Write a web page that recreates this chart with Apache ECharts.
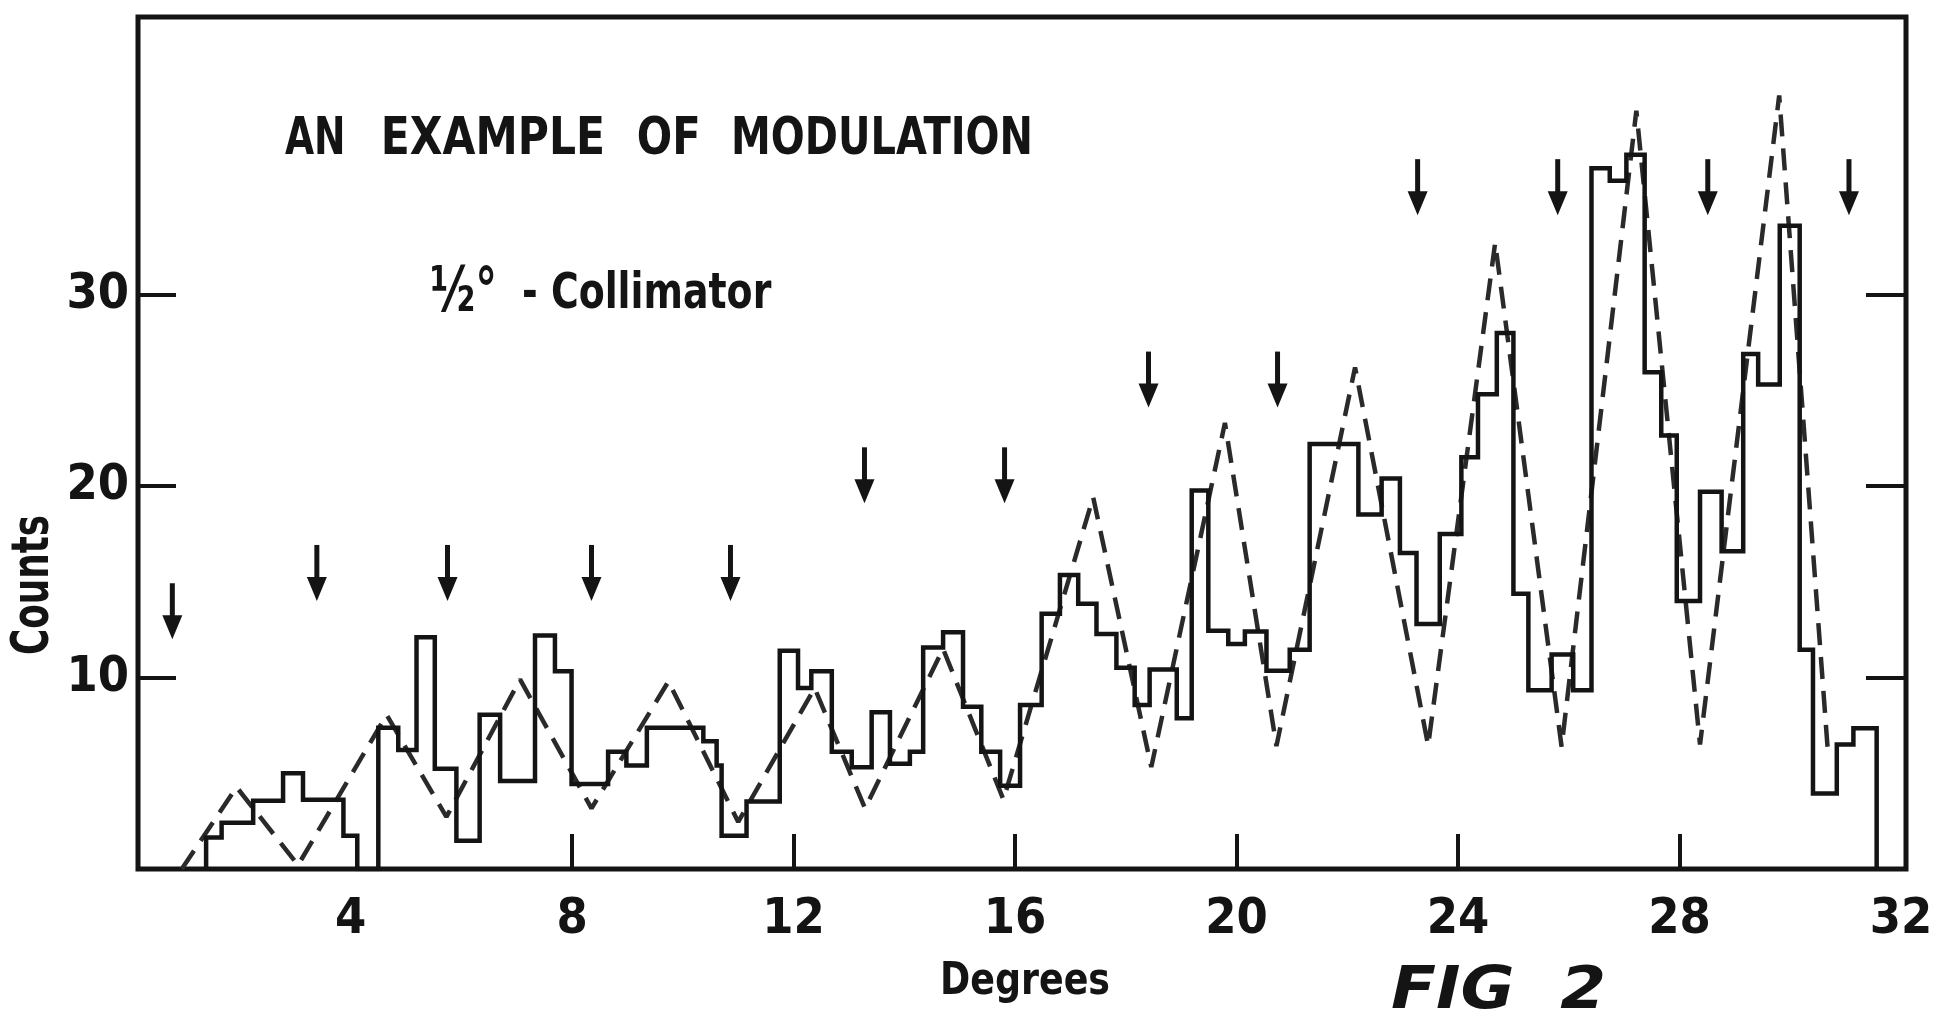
<!DOCTYPE html>
<html><head><meta charset="utf-8">
<script src="https://cdn.jsdelivr.net/npm/echarts@6/dist/echarts.min.js"></script>
<style>html,body{margin:0;padding:0;background:#fff}#c{width:1945px;height:1015px}</style>
</head><body><div id="c"></div>
<script>
// ---------- data ----------
// histogram: left edge of each bin (degrees) and its count
const histEdges = [1.39,1.67,2.24,2.78,3.14,3.87,4.12,4.50,4.86,5.19,
  5.52,5.91,6.33,6.70,7.33,7.69,7.99,8.65,8.98,9.35,
  10.37,10.61,10.70,11.15,11.75,12.08,12.32,12.69,13.05,13.41,
  13.74,14.10,14.34,14.70,15.06,15.39,15.73,16.09,16.48,16.81,
  17.14,17.47,17.83,18.16,18.43,18.92,19.19,19.49,19.85,20.15,
  20.54,20.96,21.32,22.20,22.62,22.95,23.25,23.67,24.06,24.36,
  24.70,25.00,25.27,25.69,26.08,26.41,26.74,27.04,27.37,27.67,
  27.95,28.37,28.76,29.15,29.42,29.81,30.17,30.41,30.84,31.14];
const histCounts = [1.65,2.42,3.56,5.0,3.62,1.74,0,7.38,6.22,12.1,
  5.23,1.47,8.06,4.6,12.2,10.33,4.44,6.13,5.41,7.38,
  6.67,5.41,1.74,3.53,11.4,9.45,10.33,6.13,5.32,8.19,
  5.5,6.13,11.57,12.36,8.48,6.13,4.35,8.57,13.33,15.36,
  13.86,12.27,10.51,8.57,10.42,7.87,19.77,12.45,11.75,12.4,
  10.36,11.45,22.2,18.52,20.39,16.5,12.8,17.5,21.5,24.8,
  28.0,14.37,9.34,11.2,9.34,36.6,35.95,37.3,25.95,22.64,
  14.0,19.7,16.6,26.9,25.3,33.6,11.45,3.94,6.5,7.35];
const histEnd = 31.56;

// dashed modulation curve: vertices
const fitX = [0.95,1.94,3.05,4.65,5.73,7.06,8.35,9.74,11.00,12.38,13.29,14.70,15.79,
  17.41,18.46,19.79,20.72,22.14,23.46,24.67,25.87,27.22,28.37,29.80,30.68];
const fitY = [0,4.28,0.2,8.05,2.72,9.9,3.17,9.8,2.46,9.45,3.17,11.5,3.62,
  19.42,5.32,23.3,6.42,26.2,6.45,32.7,6.39,39.6,6.5,40.4,6.1];

// arrows (x position in degrees, y of the arrow tip in counts)
const arrowX = [0.78,3.39,5.75,8.35,10.86,13.28,15.81,18.41,20.74,23.27,25.80,28.51,31.06];
const arrowTip = [12.0,14.0,14.0,14.0,14.0,19.1,19.1,24.1,24.1,34.15,34.15,34.15,34.15];

// tick labels
const xTickLabels = [4,8,12,16,20,24,28,32];
const xTickMarks = [8,12,16,20,24,28];
const yTickLabels = [10,20,30];

// ---------- chart ----------
const INK = '#141414';
const FONT = '"DejaVu Sans Condensed", "DejaVu Sans", sans-serif';
const mctx = document.createElement('canvas').getContext('2d');
function measure(text, size, weight, style) {
  mctx.font = (style || 'normal') + ' ' + (weight || 'normal') + ' ' + size + 'px ' + FONT;
  return mctx.measureText(text).width;
}
function fitText(text, x0, x1, yc, size, weight, style, extra) {
  const w = measure(text, size, weight, style);
  return Object.assign({
    type: 'text', x: x0, y: yc, scaleX: (x1 - x0) / w, silent: true,
    style: { text: text, fill: INK, fontSize: size, fontWeight: weight || 'normal',
      fontStyle: style || 'normal', fontFamily: FONT,
      align: 'left', textAlign: 'left', verticalAlign: 'middle', textVerticalAlign: 'middle' }
  }, extra || {});
}

const histData = [[histEdges[0], 0]]
  .concat(histEdges.map((e, i) => [e, histCounts[i]]))
  .concat([[histEnd, 0]]);
const fitData = fitX.map((x, i) => [x, fitY[i]]);
const arrowData = arrowX.map((x, i) => [x, arrowTip[i]]);

const countsW = measure('Counts', 52, 'bold');

const option = {
  animation: false,
  backgroundColor: '#ffffff',
  grid: { left: 138, right: 39, top: 17, bottom: 146, show: true,
    borderColor: INK, borderWidth: 5, backgroundColor: 'transparent' },
  xAxis: {
    type: 'value', min: 0.16, max: 32.09,
    axisLine: { show: false }, splitLine: { show: false },
    axisTick: { show: true, inside: true, length: 35, customValues: xTickMarks,
      lineStyle: { color: INK, width: 4 } },
    axisLabel: { show: true, customValues: xTickLabels, margin: 26, color: INK,
      fontSize: 50, fontWeight: 'bold', fontFamily: FONT }
  },
  yAxis: [{
    type: 'value', min: 0, max: 44.5, position: 'left',
    axisLine: { show: false }, splitLine: { show: false },
    axisTick: { show: true, inside: true, length: 38, customValues: yTickLabels,
      lineStyle: { color: INK, width: 4 } },
    axisLabel: { show: true, customValues: yTickLabels, margin: 9, color: INK,
      fontSize: 50, fontWeight: 'bold', fontFamily: FONT }
  }, {
    type: 'value', min: 0, max: 44.5, position: 'right',
    axisLine: { show: false }, splitLine: { show: false },
    axisTick: { show: true, inside: true, length: 40, customValues: yTickLabels,
      lineStyle: { color: INK, width: 4 } },
    axisLabel: { show: false }
  }],
  series: [{
    type: 'line', data: fitData, symbol: 'none', silent: true, z: 2,
    lineStyle: { color: '#2a2a2a', width: 4.5, type: [22, 12] }
  }, {
    type: 'line', step: 'end', data: histData, symbol: 'none', silent: true, z: 3,
    lineStyle: { color: INK, width: 4.5, join: 'miter' }
  }, {
    type: 'custom', data: arrowData, silent: true, z: 4,
    encode: { x: 0, y: 1 },
    renderItem: function (params, api) {
      const tip = api.coord([api.value(0), api.value(1)]);
      const total = 56, headH = 24, headW = 20, shaftW = 5;
      return { type: 'group', children: [
        { type: 'rect', shape: { x: tip[0] - shaftW / 2, y: tip[1] - total, width: shaftW, height: total - headH + 2 },
          style: { fill: INK } },
        { type: 'polygon', shape: { points: [[tip[0] - headW / 2, tip[1] - headH], [tip[0] + headW / 2, tip[1] - headH], [tip[0], tip[1]]] },
          style: { fill: INK } }
      ] };
    }
  }],
  graphic: [
    fitText('AN', 285, 345.6, 141, 51, 'bold'),
    fitText('EXAMPLE', 380.8, 605, 141, 51, 'bold'),
    fitText('OF', 636.8, 700.7, 141, 51, 'bold'),
    fitText('MODULATION', 731, 1033, 141, 51, 'bold'),
    fitText('\u00BD\u00B0', 430, 497, 295, 62, 'bold'),
    fitText('- Collimator', 522, 771.3, 295, 49, 'bold'),
    {
      type: 'text', x: 34, y: 585, rotation: Math.PI / 2, scaleX: 140 / countsW, silent: true,
      style: { text: 'Counts', fill: INK, fontSize: 52, fontWeight: 'bold', fontFamily: FONT,
        align: 'center', textAlign: 'center', verticalAlign: 'middle', textVerticalAlign: 'middle' }
    },
    fitText('Degrees', 940, 1110, 982, 45, 'bold'),
    fitText('FIG  2', 1391, 1606, 993, 58, 'bold', 'italic')
  ]
};
const chart = echarts.init(document.getElementById('c'), null, { width: 1945, height: 1015 });
chart.setOption(option);
</script>
</body></html>
